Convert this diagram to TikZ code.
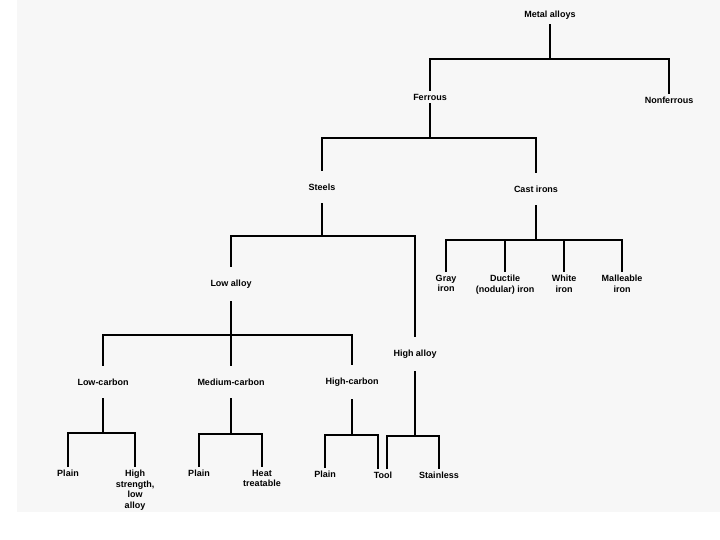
\documentclass[tikz,border=0pt]{standalone}
\usepackage{fontspec}
\setmainfont{Liberation Sans}
\definecolor{paper}{HTML}{F7F7F7}

\begin{document}
\begin{tikzpicture}[x=1pt, y=-1pt,
        lbl/.style={font=\fontsize{9}{10.5}\selectfont\bfseries, inner sep=1pt, outer sep=2pt, align=center},
        mid/.style={lbl, outer ysep=12pt},
        branch/.style={line width=1.8pt}]
        \useasboundingbox (0,0) rectangle (720,540);
        \fill[paper] (17,0) rectangle (720,512);

        % upper levels
        \node[lbl, outer ysep=4pt] (metal) at (550,15) {Metal alloys};
        \node[lbl] (ferrous) at (430,97) {Ferrous};
        \node[lbl] (nonferrous) at (669,100) {Nonferrous};
        \node[mid] (steels) at (322,187) {Steels};
        \node[mid] (castirons) at (536,189) {Cast irons};
        \node[mid] (lowalloy) at (231,284) {Low alloy};
        \node[mid] (highalloy) at (415,354) {High alloy};
        \node[mid] (lowc) at (103,382) {Low-carbon};
        \node[mid] (medc) at (231,382) {Medium-carbon};
        \node[mid] (highc) at (352,382) {High-carbon};

        % cast irons
        \node[lbl, anchor=north] (gray) at (446,272) {Gray\\iron};
        \node[lbl, anchor=north] (ductile) at (505,272) {Ductile\\(nodular) iron};
        \node[lbl, anchor=north] (white) at (564,272) {White\\iron};
        \node[lbl, anchor=north] (malleable) at (622,272) {Malleable\\iron};

        % bottom row
        \node[lbl, anchor=north] (plaina) at (68,467) {Plain};
        \node[lbl, anchor=north] (hsla) at (135,467) {High\\strength,\\low\\alloy};
        \node[lbl, anchor=north] (plainb) at (199,467) {Plain};
        \node[lbl, anchor=north] (heat) at (262,467) {Heat\\treatable};
        \node[lbl, anchor=north] (plainc) at (325,468) {Plain};
        \node[lbl, anchor=north] (tool) at (383,469) {Tool};
        \node[lbl, anchor=north] (stainless) at (439,469) {Stainless};

        \coordinate (j1) at (550,59);
        \coordinate (j2) at (430,138);
        \coordinate (j3) at (322,236);
        \coordinate (j4) at (536,240);
        \coordinate (j5) at (231,335);
        \coordinate (j6) at (103,433);
        \coordinate (j7) at (231,434);
        \coordinate (j8) at (352,435);
        \coordinate (j9) at (415,436);

        \draw[branch] (metal.south) -- (j1);
        \draw[branch] (ferrous.north) |- (j1) -| (nonferrous.north);
        \draw[branch] (ferrous.south) -- (j2);
        \draw[branch] (steels.north) |- (j2) -| (castirons.north);
        \draw[branch] (steels.south) -- (j3);
        \draw[branch] (lowalloy.north) |- (j3) -| (highalloy.north);
        \draw[branch] (castirons.south) -- (j4);
        \draw[branch] (gray.north) |- (j4) -| (malleable.north);
        \foreach \n in {ductile, white}
            \draw[branch] (\n.north) -- (\n.north |- j4);
        \draw[branch] (lowalloy.south) -- (j5) -- (medc.north);
        \draw[branch] (lowc.north) |- (j5) -| (highc.north);
        \draw[branch] (lowc.south) -- (j6);
        \draw[branch] (plaina.north) |- (j6) -| (hsla.north);
        \draw[branch] (medc.south) -- (j7);
        \draw[branch] (plainb.north) |- (j7) -| (heat.north);
        \draw[branch] (highc.south) -- (j8);
        \draw[branch] (plainc.north) |- (j8) -| ([xshift=-5pt]tool.north);
        \draw[branch] (highalloy.south) -- (j9);
        \draw[branch] ([xshift=4pt]tool.north) |- (j9) -| (stainless.north);
\end{tikzpicture}
\end{document}
